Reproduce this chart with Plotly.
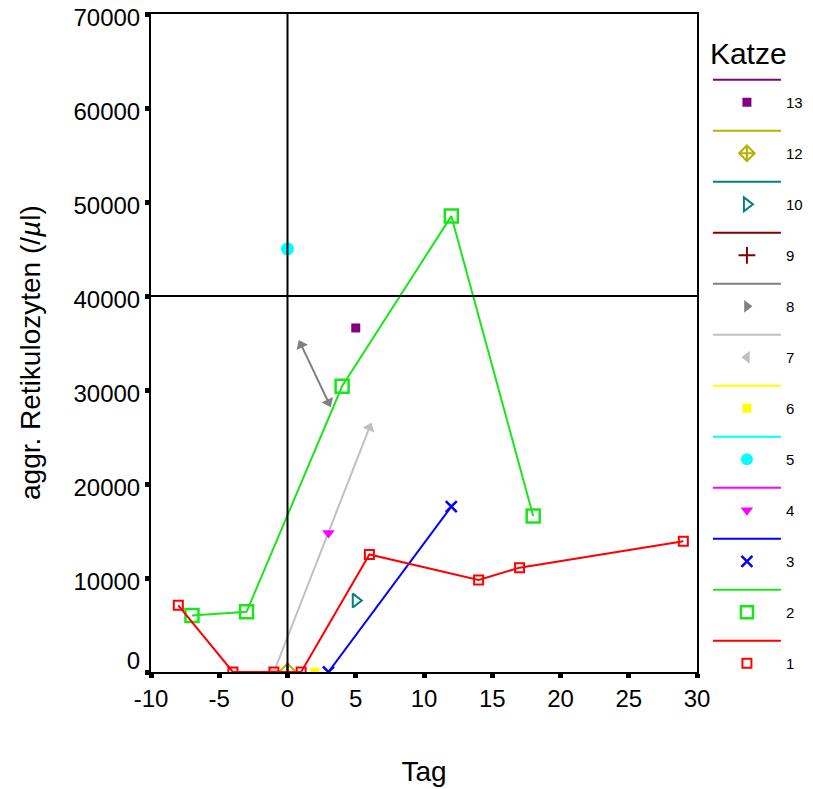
import math
import plotly.graph_objects as go

# ---------------- data ----------------
cat_labels = ["1", "2", "3", "4", "5", "6", "7", "8", "9", "10", "12", "13"]

cat1_x = [-8, -4, -1, 1, 6, 14, 17, 29]
cat1_y = [7100, 0, 0, 0, 12500, 9800, 11100, 13900]
cat2_x = [-7, -3, 4, 12, 18]
cat2_y = [6000, 6400, 30400, 48500, 16600]
cat3_x = [3, 12]
cat3_y = [0, 17600]
cat4_x = [3]
cat4_y = [14800]
cat5_x = [0]
cat5_y = [45000]
cat6_x = [2]
cat6_y = [0]
cat7_x = [-1, 6]
cat7_y = [0, 26000]
cat8_x = [1, 3]
cat8_y = [34800, 28700]
cat9_x = [0]
cat9_y = [0]
cat10_x = [5]
cat10_y = [7600]
cat12_x = [0]
cat12_y = [0]
cat13_x = [5]
cat13_y = [36600]

ref_day = 0          # vertical reference line
ref_level = 40000    # horizontal reference line

x_ticks = [-10, -5, 0, 5, 10, 15, 20, 25, 30]
x_ticktext = ["-10", "-5", "0", "5", "10", "15", "20", "25", "30"]
y_ticks = [0, 10000, 20000, 30000, 40000, 50000, 60000, 70000]

x_title = "Tag"
y_title = "aggr. Retikulozyten (/<i>µ</i>l)"
legend_title = "Katze"

data = {
    "1": (cat1_x, cat1_y), "2": (cat2_x, cat2_y), "3": (cat3_x, cat3_y),
    "4": (cat4_x, cat4_y), "5": (cat5_x, cat5_y), "6": (cat6_x, cat6_y),
    "7": (cat7_x, cat7_y), "8": (cat8_x, cat8_y), "9": (cat9_x, cat9_y),
    "10": (cat10_x, cat10_y), "12": (cat12_x, cat12_y), "13": (cat13_x, cat13_y),
}

# ---------------- styles ----------------
styles = {
    "1":  dict(color="#ff0000", symbol="square-open", size=9, lw=2),
    "2":  dict(color="#19e619", symbol="square-open", size=13, lw=2.5),
    "3":  dict(color="#0000ff", symbol="x-thin-open", size=11, lw=2.5),
    "4":  dict(color="#ff00ff", symbol="triangle-down", size=11, lw=0),
    "5":  dict(color="#00ffff", symbol="circle", size=13, lw=0),
    "6":  dict(color="#ffff00", symbol="square", size=9, lw=0),
    "7":  dict(color="#c0c0c0", symbol="triangle-left", size=11, lw=0),
    "8":  dict(color="#808080", symbol="triangle-right", size=11, lw=0),
    "9":  dict(color="#800000", symbol="cross-thin-open", size=13, lw=2),
    "10": dict(color="#008080", symbol="triangle-right-open", size=12, lw=2),
    "12": dict(color="#b3b300", symbol="diamond-cross-open", size=13, lw=2),
    "13": dict(color="#800080", symbol="square", size=9, lw=0),
}
arrow_cats = {"7", "8"}

# the page body adds an 8 px margin, so the figure is 8 px smaller than the window
W, H = 805, 781
ML, MR, MT, MB = 143, 116, 6, 117
X_RANGE = [-10, 30]
Y_RANGE = [0, 70000]
FONT = "Liberation Sans, Arial, Helvetica, sans-serif"

plot_w = W - ML - MR
plot_h = H - MT - MB
sx = plot_w / (X_RANGE[1] - X_RANGE[0])
sy = plot_h / (Y_RANGE[1] - Y_RANGE[0])

fig = go.Figure()

# data traces (drawn from 13 down to 1 so cat 1 is on top)
for lab in reversed(cat_labels):
    xs, ys = data[lab]
    st = styles[lab]
    if len(xs) > 1:
        fig.add_trace(go.Scatter(
            x=xs, y=ys, mode="lines", showlegend=False, hoverinfo="skip",
            line=dict(color=st["color"], width=2),
        ))
    if lab in arrow_cats:
        # arrowheads at both ends, oriented along the segment
        dxp = (xs[-1] - xs[0]) * sx
        dyp = (ys[-1] - ys[0]) * sy
        ang = math.degrees(math.atan2(dxp, dyp))
        fig.add_trace(go.Scatter(
            x=[xs[0], xs[-1]], y=[ys[0], ys[-1]], mode="markers", showlegend=False,
            marker=dict(symbol="triangle-up", size=11, color=st["color"],
                        angle=[ang + 180, ang], line=dict(width=0)),
        ))
    else:
        fig.add_trace(go.Scatter(
            x=xs, y=ys, mode="markers", showlegend=False,
            marker=dict(symbol=st["symbol"], size=st["size"], color=st["color"],
                        line=dict(width=st["lw"], color=st["color"])),
        ))

# legend entries (13 at top): line row above marker row for each category
for lab in reversed(cat_labels):
    st = styles[lab]
    fig.add_trace(go.Scatter(
        x=[None], y=[None], mode="lines", name=" ", legendgroup=lab,
        line=dict(color=st["color"], width=2),
    ))
    fig.add_trace(go.Scatter(
        x=[None], y=[None], mode="markers", name=lab, legendgroup=lab,
        marker=dict(symbol=st["symbol"], size=min(st["size"], 12), color=st["color"],
                    line=dict(width=st["lw"], color=st["color"])),
    ))

# reference lines
fig.add_shape(type="line", xref="x", yref="paper", x0=ref_day, x1=ref_day, y0=0, y1=1,
              line=dict(color="black", width=2), layer="above")
fig.add_shape(type="line", xref="paper", yref="y", x0=0, x1=1, y0=ref_level, y1=ref_level,
              line=dict(color="black", width=2), layer="above")

# y axis title as a rotated annotation (sits slightly below the plot centre)
fig.add_annotation(
    text=y_title, xref="paper", yref="paper", x=0, y=0.5,
    xanchor="center", yanchor="middle", textangle=-90,
    xshift=-121, yshift=-10, showarrow=False,
    font=dict(size=28, family=FONT, color="black"),
)

y_ticktext = [("0<br> " if v == 0 else str(v)) for v in y_ticks]

fig.update_layout(
    width=W, height=H,
    margin=dict(l=ML, r=MR, t=MT, b=MB, autoexpand=False),
    paper_bgcolor="white", plot_bgcolor="white",
    font=dict(family=FONT, color="black", size=24),
    showlegend=True,
    legend=dict(
        x=1.02, xanchor="left", y=0.984, yanchor="top",
        traceorder="grouped", tracegroupgap=6,
        itemwidth=68, font=dict(size=15),
        title=dict(text=legend_title, font=dict(size=30)),
        bgcolor="rgba(0,0,0,0)",
    ),
    xaxis=dict(
        range=X_RANGE, tickmode="array", tickvals=x_ticks, ticktext=x_ticktext,
        ticks="outside", ticklen=4, tickwidth=5, tickcolor="black",
        showline=True, linecolor="black", linewidth=2, mirror=True,
        showgrid=False, zeroline=False, layer="above traces",
        ticklabeloverflow="allow",
        title=dict(text=x_title, font=dict(size=28), standoff=51),
        tickfont=dict(size=24),
    ),
    yaxis=dict(
        range=Y_RANGE, tickmode="array", tickvals=y_ticks, ticktext=y_ticktext,
        ticks="outside", ticklen=4, tickwidth=5, tickcolor="black",
        showline=True, linecolor="black", linewidth=2, mirror=True,
        showgrid=False, zeroline=False, layer="above traces",
        ticklabeloverflow="allow", ticklabelshift=4,
        tickfont=dict(size=24),
    ),
)

fig.write_html("out.html")
